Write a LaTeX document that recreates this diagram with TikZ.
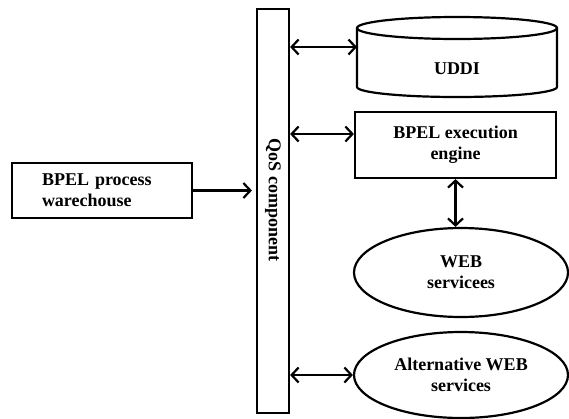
\documentclass[tikz,border=0pt]{standalone}
\usepackage{fontspec}
\setmainfont{Liberation Serif}
\usetikzlibrary{arrows.meta,shapes.geometric}
\begin{document}
\begin{tikzpicture}[x=1pt,y=-1pt,line width=2.2pt,
  txt/.style={font=\fontsize{18}{21}\selectfont\bfseries},
  box/.style={draw,rectangle,align=center,txt,inner sep=0pt},
  ell/.style={draw,ellipse,align=center,txt,inner sep=0pt},
  tip/.tip={Straight Barb[length=7pt,width=15pt,line width=2.2pt]},
  arr/.style={-tip},
  darr/.style={tip-tip}]
\useasboundingbox (0,0) rectangle (569,418);
% QoS bar
\node[draw,rectangle,minimum width=32pt,minimum height=404pt,inner sep=0pt] (qos) at (273,211) {};
\node[txt,rotate=-90] (qoslbl) at (273,200) {QoS component};
% warehouse
\node[box,minimum width=180pt,minimum height=55pt,text width=120pt,align=left,inner xsep=30pt] (wh) at (102,190.5) {BPEL process\\warechouse};
% UDDI cylinder
\draw (357,28) -- (357,87) arc[start angle=180,end angle=0,x radius=100,y radius=10] -- (557,28);
\draw (457,28) ellipse[x radius=100,y radius=11];
\node[txt] (uddi) at (457,69) {UDDI};
\coordinate (uddiW) at (357,47);
% engine
\node[box,minimum width=201pt,minimum height=66pt] (eng) at (455.5,145) {BPEL execution\\engine};
% web services
\node[ell,minimum width=214pt,minimum height=89pt] (web) at (461,272.5) {WEB\\servicees};
\node[ell,minimum width=214pt,minimum height=86pt] (alt) at (461,375) {Alternative WEB\\services};
% connectors
\draw[arr,shorten >=4pt] (wh.east) -- (wh.east -| qos.west) ;
\draw[darr] (qos.east |- uddiW) -- (uddiW);
\draw[darr] (qos.east |- 0,134) -- (eng.west |- 0,134);
\draw[darr] (eng.south) -- (eng.south |- web.north);
\draw[darr] (qos.east |- alt.west) -- (alt.west);
\end{tikzpicture}
\end{document}
